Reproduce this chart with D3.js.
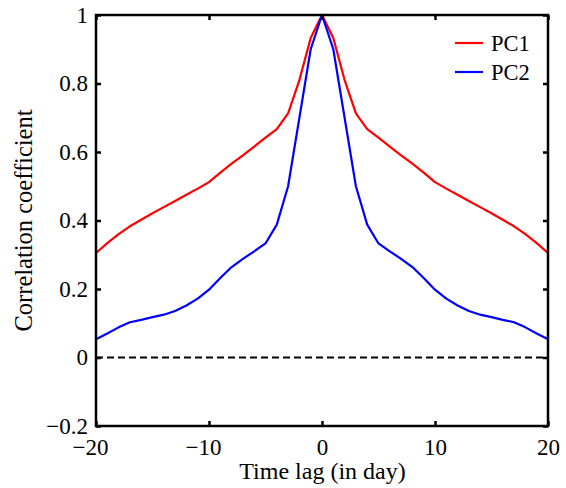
<!DOCTYPE html>
<html>
<head>
<meta charset="utf-8">
<script src="https://cdn.jsdelivr.net/npm/d3@7"></script>
<style>
  html, body { margin: 0; padding: 0; background: #fff; }
  svg text { font-family: "Liberation Serif", "Times New Roman", serif; fill: #000; }
</style>
</head>
<body>
<svg id="chart" width="566" height="488"></svg>
<script>
// ---- data ----
const lags = d3.range(-20, 21);
const pc1Half = [1.0, 0.933, 0.81, 0.713, 0.667, 0.642, 0.616, 0.59, 0.566, 0.54, 0.512, 0.493, 0.475, 0.457, 0.439, 0.421, 0.402, 0.383, 0.36, 0.334, 0.305];
const pc2Half = [1.0, 0.90, 0.70, 0.50, 0.388, 0.333, 0.31, 0.288, 0.264, 0.232, 0.198, 0.172, 0.152, 0.136, 0.125, 0.118, 0.11, 0.103, 0.088, 0.07, 0.053];
const pc1 = lags.map(l => pc1Half[Math.abs(l)]);
const pc2 = lags.map(l => pc2Half[Math.abs(l)]);
const xTicks = [-20, -10, 0, 10, 20];
const yTicks = [-0.2, 0, 0.2, 0.4, 0.6, 0.8, 1];
const seriesNames = ["PC1", "PC2"];
const seriesColors = ["#ff0000", "#0000ff"];

// ---- layout ----
const L = 96, R = 548, T = 15, B = 426;
const svg = d3.select("#chart");
const x = d3.scaleLinear().domain([-20, 20]).range([L, R]);
const y = d3.scaleLinear().domain([-0.2, 1]).range([B, T]);
const fmt = v => (v < 0 ? "\u2212" : "") + String(Math.abs(+v.toFixed(1)));

// zero dashed line
svg.append("line")
  .attr("x1", x(-20)).attr("x2", x(20))
  .attr("y1", y(0)).attr("y2", y(0))
  .attr("stroke", "#000").attr("stroke-width", 2)
  .attr("stroke-dasharray", "7,4");

// series lines
const line = d3.line().x((d, i) => x(lags[i])).y(d => y(d));
[pc1, pc2].forEach((s, k) => {
  svg.append("path").datum(s)
    .attr("d", line)
    .attr("fill", "none")
    .attr("stroke", seriesColors[k])
    .attr("stroke-width", 2.2)
    .attr("stroke-linejoin", "round");
});

// axes (ticks inside)
const tl = 5;
const axB = svg.append("g").attr("transform", `translate(0,${B})`)
  .call(d3.axisBottom(x).tickValues(xTicks).tickSizeInner(-tl).tickSizeOuter(0).tickPadding(12).tickFormat(fmt));
const axT = svg.append("g").attr("transform", `translate(0,${T})`)
  .call(d3.axisTop(x).tickValues(xTicks).tickSizeInner(-tl).tickSizeOuter(0).tickFormat(""));
const axL = svg.append("g").attr("transform", `translate(${L},0)`)
  .call(d3.axisLeft(y).tickValues(yTicks).tickSizeInner(-tl).tickSizeOuter(0).tickPadding(8).tickFormat(fmt));
const axR = svg.append("g").attr("transform", `translate(${R},0)`)
  .call(d3.axisRight(y).tickValues(yTicks).tickSizeInner(-tl).tickSizeOuter(0).tickFormat(""));
[axB, axT, axL, axR].forEach(a => {
  a.select(".domain").remove();
  a.selectAll(".tick line").attr("stroke", "#000").attr("stroke-width", 2.5);
  a.selectAll("text").attr("font-size", 23).attr("fill", "#000");
});
axB.selectAll("text").attr("dy", "0.72em").attr("dx", d => d < 0 ? -6 : 0);

// frame
svg.append("rect")
  .attr("x", L).attr("y", T).attr("width", R - L).attr("height", B - T)
  .attr("fill", "none").attr("stroke", "#000").attr("stroke-width", 2.5);

// axis labels
svg.append("text")
  .attr("x", (L + R) / 2 + 0.5).attr("y", 479)
  .attr("text-anchor", "middle").attr("font-size", 24)
  .text("Time lag (in day)");
svg.append("text")
  .attr("transform", `translate(32,${(T + B) / 2}) rotate(-90)`)
  .attr("text-anchor", "middle").attr("font-size", 24.5)
  .text("Correlation coefficient");

// legend
seriesNames.forEach((n, k) => {
  const ly = 43 + k * 29;
  svg.append("line").attr("x1", 455).attr("x2", 483).attr("y1", ly).attr("y2", ly)
    .attr("stroke", seriesColors[k]).attr("stroke-width", 2.2);
  svg.append("text").attr("x", 491).attr("y", ly).attr("dy", "0.35em")
    .attr("font-size", 22.5).text(n);
});
</script>
</body>
</html>
